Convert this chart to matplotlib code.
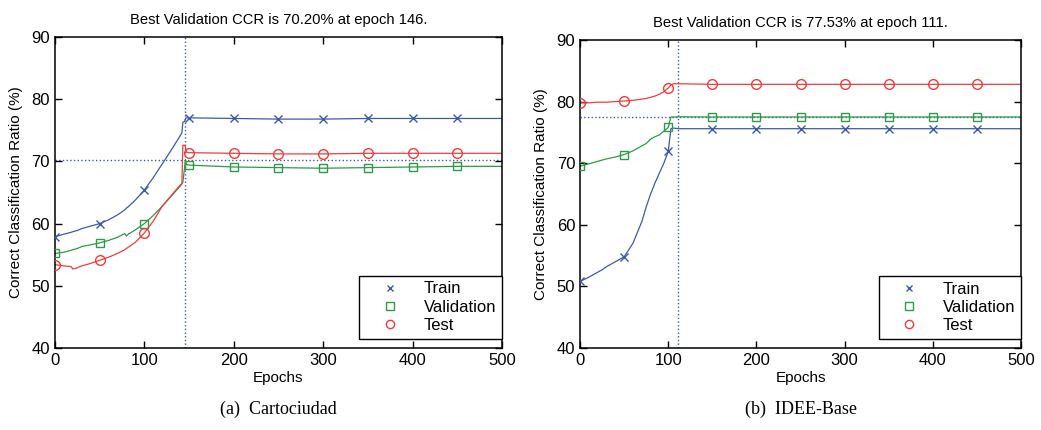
import numpy as np
import matplotlib
matplotlib.use("Agg")
import matplotlib.pyplot as plt

plt.rcParams["font.family"] = ["Liberation Sans", "DejaVu Sans"]

# (a) Cartociudad
epochs_a = [0, 10, 18, 20, 25, 30, 40, 50, 60, 70, 78, 80, 82, 90, 100, 110, 120, 130,
            140, 142, 143, 145, 146, 147, 150, 200, 250, 300, 350, 400, 450, 500]
train_a = [57.9, 58.3, 58.6, 58.7, 58.9, 59.2, 59.6, 60.0, 60.6, 61.4, 62.2, 62.5, 62.7, 63.8,
           65.4, 67.4, 69.6, 71.8, 74.1, 74.6, 76.3, 76.4, 76.9, 77.0, 77.0, 76.9, 76.8, 76.8,
           76.9, 76.9, 76.9, 76.9]
valid_a = [55.2, 55.4, 55.7, 55.8, 56.0, 56.3, 56.6, 56.9, 57.3, 57.8, 58.4, 58.0, 58.3, 59.0,
           60.0, 61.3, 62.8, 64.4, 66.0, 66.4, 66.6, 69.0, 70.2, 69.5, 69.4, 69.1, 69.0, 68.9,
           69.0, 69.1, 69.2, 69.2]
test_a = [53.4, 53.2, 53.1, 52.7, 52.9, 53.2, 53.6, 54.1, 54.6, 55.2, 55.8, 56.0, 56.2, 57.0,
          58.5, 60.4, 62.8, 64.5, 66.2, 66.4, 72.6, 72.6, 72.3, 71.5, 71.4, 71.3, 71.2, 71.2,
          71.3, 71.3, 71.3, 71.3]
best_a = (146, 70.20)

# (b) IDEE-Base
epochs_b = [0, 10, 20, 25, 30, 40, 50, 60, 70, 75, 80, 85, 90, 95, 100, 103, 106, 111,
            150, 200, 250, 300, 350, 400, 450, 500]
train_b = [50.8, 51.5, 52.3, 52.7, 53.2, 54.0, 54.8, 57.0, 60.5, 62.9, 65.0, 66.8, 68.4, 70.0,
           71.9, 75.6, 75.7, 75.6, 75.6, 75.6, 75.6, 75.6, 75.6, 75.6, 75.6, 75.6]
valid_b = [69.5, 69.9, 70.3, 70.5, 70.7, 71.0, 71.4, 72.0, 72.8, 73.2, 73.9, 74.3, 74.6, 75.2,
           75.8, 77.5, 77.5, 77.53, 77.5, 77.5, 77.5, 77.5, 77.5, 77.5, 77.5, 77.5]
test_b = [79.8, 79.8, 79.9, 79.9, 79.9, 80.0, 80.1, 80.2, 80.4, 80.5, 80.7, 80.9, 81.2, 81.6,
          82.2, 82.7, 82.9, 82.9, 82.8, 82.8, 82.8, 82.8, 82.8, 82.8, 82.8, 82.8]
best_b = (111, 77.53)

BLUE, GREEN, RED = "#3d5aa8", "#2c9a48", "#f03c3c"
labels = ["Train", "Validation", "Test"]
markers = ["x", "s", "o"]
msizes = [5.5, 6, 7]
colors = [BLUE, GREEN, RED]


def panel(ax, ep, series, best, caption):
    ep = np.array(ep)
    mk = (ep % 50 == 0) & (ep < 500)
    ax.axvline(best[0], color=BLUE, ls=":", lw=1, zorder=1)
    ax.axhline(best[1], color=BLUE, ls=":", lw=1, zorder=1)
    for s, m, ms, c, lab in zip(series, markers, msizes, colors, labels):
        s = np.array(s)
        ax.plot(ep, s, color=c, lw=0.9, zorder=2)
        ax.plot(ep[mk], s[mk], ls="none", marker=m, ms=ms,
                mfc="none", mec=c, mew=1.0, zorder=3, label=lab)
    ax.set_xlim(0, 500); ax.set_ylim(40, 90)
    ax.set_xticks(range(0, 501, 100)); ax.set_yticks(range(40, 91, 10))
    ax.tick_params(direction="in", top=True, right=True, labelsize=12, length=5, width=1)
    for sp in ax.spines.values():
        sp.set_linewidth(1.1)
    ax.set_xlabel("Epochs", fontsize=11, labelpad=2)
    ax.set_ylabel("Correct Classification Ratio (%)", fontsize=11, labelpad=6)
    ax.set_title(f"Best Validation CCR is {best[1]:.2f}% at epoch {best[0]}.",
                 fontsize=10.6, pad=9)
    leg = ax.legend(loc="lower right", bbox_to_anchor=(1.0, 0.029), fontsize=12,
                    fancybox=False, edgecolor="black", framealpha=1, borderaxespad=0,
                    handlelength=3.0, handletextpad=0.5, labelspacing=0.2,
                    borderpad=0.35, markerscale=0.85)
    leg.get_frame().set_linewidth(1.0)
    ax.text(0.5, -0.17, caption, transform=ax.transAxes, ha="center", va="top",
            fontsize=13, family=["Liberation Serif", "DejaVu Serif"])


fig = plt.figure(figsize=(10.41, 4.30), dpi=100)
ax1 = fig.add_axes([0.0528, 0.1907, 0.4294, 0.7233])
ax2 = fig.add_axes([0.5572, 0.1907, 0.4236, 0.7163])
panel(ax1, epochs_a, [train_a, valid_a, test_a], best_a, "(a)  Cartociudad")
panel(ax2, epochs_b, [train_b, valid_b, test_b], best_b, "(b)  IDEE-Base")
fig.savefig("out.png", dpi=100)
